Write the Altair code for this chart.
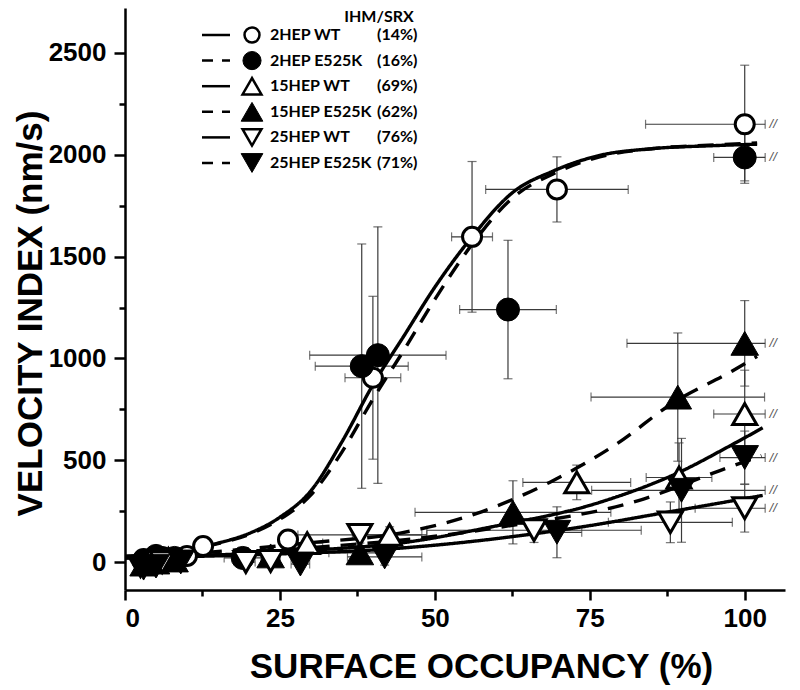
import altair as alt
import pandas as pd

FONT = "Liberation Sans"
LFONT = "Lato"

# ---------------- data ----------------
series = ["2HEP WT", "2HEP E525K", "15HEP WT", "15HEP E525K", "25HEP WT", "25HEP E525K"]
percent = ["(14%)", "(16%)", "(69%)", "(62%)", "(76%)", "(71%)"]
shapes = ["circle", "circle", "triangle-up", "triangle-up", "triangle-down", "triangle-down"]
filled = [False, True, False, True, False, True]
dashes = ["solid", "dashed", "solid", "dashed", "solid", "dashed"]

# measured points (x = surface occupancy %, y = velocity index nm/s)
p_2hep_wt_x = [3, 6, 10, 12.6, 26.3, 40.0, 56.0, 69.7, 100.0]
p_2hep_wt_y = [15, 25, 30, 78, 110, 905, 1597, 1830, 2150]
p_2hep_wt_xerr = [0.5, 0.5, 1, 1, 1.5, 4.5, 3.3, 11.5, 16]
p_2hep_wt_yerr = [10, 10, 15, 20, 30, 400, 370, 160, 290]

p_2hep_mut_x = [3, 5, 8, 19, 38.2, 40.8, 61.8, 100.0]
p_2hep_mut_y = [5, 30, 20, 20, 962, 1016, 1240, 1987]
p_2hep_mut_xerr = [0.5, 0.5, 0.8, 3, 7.5, 11, 7.8, 5]
p_2hep_mut_yerr = [10, 10, 10, 15, 600, 630, 340, 115]

p_15hep_wt_x = [4, 7, 29.4, 42.7, 72.9, 89.4, 100.0]
p_15hep_wt_y = [10, 15, 93, 133, 391, 415, 727]
p_15hep_wt_xerr = [0.5, 0.5, 2.5, 6, 8.7, 5.3, 5]
p_15hep_wt_yerr = [10, 10, 20, 40, 85, 170, 215]

p_15hep_mut_x = [3, 5, 8, 23.5, 37.9, 62.6, 89.2, 100.0]
p_15hep_mut_y = [-10, 0, 10, 30, 45, 244, 810, 1074]
p_15hep_mut_xerr = [0.5, 0.5, 0.8, 1.5, 5, 15.8, 14, 19]
p_15hep_mut_yerr = [10, 10, 10, 15, 30, 155, 315, 210]

p_25hep_wt_x = [2.5, 6, 19.5, 23.5, 37.9, 66.0, 88.0, 100.0]
p_25hep_wt_y = [-20, 0, 0, 5, 133, 156, 195, 264]
p_25hep_wt_xerr = [0.5, 0.5, 1.5, 1.5, 10, 17.3, 10, 8]
p_25hep_wt_yerr = [10, 10, 10, 10, 40, 60, 100, 117]

p_25hep_mut_x = [3, 5, 9, 28.3, 41.9, 69.7, 89.8, 100.0]
p_25hep_mut_y = [-30, -20, 0, -10, 25, 146, 352, 513]
p_25hep_mut_xerr = [0.5, 0.5, 0.8, 1.5, 6, 4, 14.5, 4]
p_25hep_mut_yerr = [10, 10, 10, 10, 40, 125, 255, 130]

# fitted curves
f_2hep_wt_x = [0, 5, 10, 15, 20, 25, 30, 35, 40, 45, 50, 56, 62.6, 69, 76.6, 85, 95, 102]
f_2hep_wt_y = [25, 40, 60, 93, 140, 220, 350, 590, 870, 1110, 1350, 1597, 1816, 1919, 1997, 2030, 2045, 2052]
f_2hep_mut_x = [0, 5, 10, 15, 20, 25, 30, 35, 40, 45, 50, 56, 62.6, 69, 76.6, 85, 95, 102]
f_2hep_mut_y = [25, 38, 58, 90, 135, 210, 330, 540, 800, 1040, 1290, 1560, 1790, 1905, 1990, 2030, 2048, 2058]
f_15hep_wt_x = [0, 15, 30, 44.4, 58.9, 76.6, 90, 97.1, 102.9]
f_15hep_wt_y = [20, 35, 58, 93, 171, 293, 449, 562, 659]
f_15hep_mut_x = [0, 10, 20, 30, 44.4, 56.8, 68.5, 79.4, 88.4, 98, 102]
f_15hep_mut_y = [25, 40, 65, 95, 142, 239, 391, 581, 781, 938, 1010]
f_25hep_wt_x = [0, 20, 44.4, 73.4, 87.4, 102.9]
f_25hep_wt_y = [20, 35, 68, 171, 244, 327]
f_25hep_mut_x = [0, 20, 30, 44.4, 60.5, 83, 96, 102.7]
f_25hep_mut_y = [20, 45, 70, 107, 171, 303, 449, 522]

x_ticks = [0, 25, 50, 75, 100]
x_minor = [12.5, 37.5, 62.5, 87.5]
y_ticks = [0, 500, 1000, 1500, 2000, 2500]
y_minor = [250, 750, 1250, 1750, 2250]

# ---------------- assemble tables ----------------
pt_sets = [
    (p_2hep_wt_x, p_2hep_wt_y, p_2hep_wt_xerr, p_2hep_wt_yerr),
    (p_2hep_mut_x, p_2hep_mut_y, p_2hep_mut_xerr, p_2hep_mut_yerr),
    (p_15hep_wt_x, p_15hep_wt_y, p_15hep_wt_xerr, p_15hep_wt_yerr),
    (p_15hep_mut_x, p_15hep_mut_y, p_15hep_mut_xerr, p_15hep_mut_yerr),
    (p_25hep_wt_x, p_25hep_wt_y, p_25hep_wt_xerr, p_25hep_wt_yerr),
    (p_25hep_mut_x, p_25hep_mut_y, p_25hep_mut_xerr, p_25hep_mut_yerr),
]
fit_sets = [
    (f_2hep_wt_x, f_2hep_wt_y), (f_2hep_mut_x, f_2hep_mut_y),
    (f_15hep_wt_x, f_15hep_wt_y), (f_15hep_mut_x, f_15hep_mut_y),
    (f_25hep_wt_x, f_25hep_wt_y), (f_25hep_mut_x, f_25hep_mut_y),
]

def marker_size(shape, is_filled, legend=False):
    if shape == "circle":
        s = 530 if is_filled else 361
    else:
        s = 760 if is_filled else 576
    return s * (0.62 if legend else 1.0)

rows = []
for i, (xs_, ys_, xe, ye) in enumerate(pt_sets):
    for x, y, a, b in zip(xs_, ys_, xe, ye):
        rows.append(dict(series=series[i], x=x, y=y, xerr=a, yerr=b,
                         shape=shapes[i],
                         fill="black" if filled[i] else "white",
                         size=marker_size(shapes[i], filled[i]),
                         sw=1.0 if filled[i] else 3.0))
pts = pd.DataFrame(rows)
BAR_END = 103.3
pts["ylo"] = pts["y"] - pts["yerr"]
pts["yhi"] = pts["y"] + pts["yerr"]
pts["xlo"] = pts["x"] - pts["xerr"]
pts["xhi"] = (pts["x"] + pts["xerr"]).clip(upper=BAR_END)
brk = pts[pts["x"] + pts["xerr"] > BAR_END].copy()
brk["bx"] = 104.6

crow = []
for i, (fx, fy) in enumerate(fit_sets):
    for k, (x, y) in enumerate(zip(fx, fy)):
        crow.append(dict(series=series[i], x=x, y=y, dash=dashes[i], k=k))
curves = pd.DataFrame(crow)

# ---------------- scales & axes ----------------
xsc = alt.Scale(domain=[0, 106.5], nice=False, zero=False)
ysc = alt.Scale(domain=[-137.5, 2721], nice=False, zero=False)

common = dict(grid=False, domainColor="black", tickColor="black", labelColor="black",
              titleColor="black")
x_major = alt.Axis(values=x_ticks, orient="bottom", title="SURFACE OCCUPANCY (%)",
                   tickSize=10, tickWidth=2.5, domainWidth=2.5, labelPadding=5,
                   labelFont=FONT, labelFontSize=26, labelFontWeight="bold", format="d",
                   titleFont=FONT, titleFontSize=35, titleFontWeight="bold",
                   titleX=356, titleY=76, titleBaseline="middle", titleAlign="center",
                   **common)
x_min = alt.Axis(values=x_minor, orient="bottom", labels=False, domain=False,
                 tickSize=6, tickWidth=2.5, title=None, **common)
y_major = alt.Axis(values=y_ticks, orient="left", title="VELOCITY INDEX (nm/s)",
                   tickSize=11, tickWidth=2.5, domainWidth=2.5, labelPadding=8,
                   labelFont=FONT, labelFontSize=26, labelFontWeight="bold", format="d",
                   titleFont=FONT, titleFontSize=35, titleFontWeight="bold",
                   titleAngle=270, titleX=-95, titleY=305, titleBaseline="middle",
                   titleAlign="center", **common)
y_min = alt.Axis(values=y_minor, orient="left", labels=False, domain=False,
                 tickSize=6, tickWidth=2.5, title=None, **common)

def X(f, axis=None):
    return alt.X(f, type="quantitative", scale=xsc, axis=axis)

def Y(f, axis=None):
    return alt.Y(f, type="quantitative", scale=ysc, axis=axis)

base = alt.Chart(pts)

vbars = base.mark_errorbar(ticks=True, size=9, thickness=1.2, color="#3a3a3a", clip=True).encode(
    x=X("x"), y=Y("ylo"), y2=alt.Y2("yhi"))
hbars = base.mark_errorbar(ticks=True, size=9, thickness=1.2, color="#3a3a3a", clip=True).encode(
    x=X("xlo"), x2=alt.X2("xhi"), y=Y("y"))
breaks = alt.Chart(brk).mark_text(text="//", font=FONT, fontSize=13, fontStyle="italic",
                                  color="#555555").encode(x=X("bx"), y=Y("y"))

lines = alt.Chart(curves).mark_line(color="black", strokeWidth=3.4, interpolate="monotone",
                                    clip=True).encode(
    x=X("x", x_min), y=Y("y", y_min), detail="series:N", order="k:Q",
    strokeDash=alt.StrokeDash("dash:N", scale=alt.Scale(domain=["solid", "dashed"],
                                                        range=[[1, 0], [16, 11]]),
                              legend=None))

points = base.mark_point(filled=True, opacity=1, stroke="black").encode(
    x=X("x", x_major), y=Y("y", y_major),
    shape=alt.Shape("shape:N", scale=None),
    fill=alt.Fill("fill:N", scale=None),
    size=alt.Size("size:Q", scale=None),
    strokeWidth=alt.StrokeWidth("sw:Q", scale=None))

# ---------------- hand-built legend (pixel layout) ----------------
one = pd.DataFrame({"a": [0]})
LEG_Y0, LEG_DY = 27, 25.6
LINE_X0, LINE_X1, MARK_X, LAB_X, PCT_X = 77, 105, 127, 145, 252
legend_layers = [
    alt.Chart(one).mark_text(text="IHM/SRX", font=LFONT, fontWeight="bold", fontSize=16,
                             align="center", baseline="top", color="black").encode(
        x=alt.value(254), y=alt.value(1))
]
for i in range(len(series)):
    ly = LEG_Y0 + i * LEG_DY
    rule_kw = dict(color="black", strokeWidth=2.5)
    if dashes[i] == "dashed":
        rule_kw["strokeDash"] = [11, 9]
    legend_layers.append(alt.Chart(one).mark_rule(**rule_kw).encode(
        x=alt.value(LINE_X0), x2=alt.value(LINE_X1), y=alt.value(ly)))
    legend_layers.append(alt.Chart(one).mark_point(
        filled=True, opacity=1, shape=shapes[i], size=marker_size(shapes[i], filled[i], True),
        fill="black" if filled[i] else "white", stroke="black",
        strokeWidth=1.0 if filled[i] else 2.5).encode(x=alt.value(MARK_X), y=alt.value(ly)))
    legend_layers.append(alt.Chart(one).mark_text(
        text=series[i], font=LFONT, fontWeight="bold", fontSize=16, align="left",
        baseline="middle", color="black").encode(x=alt.value(LAB_X), y=alt.value(ly)))
    legend_layers.append(alt.Chart(one).mark_text(
        text=percent[i], font=LFONT, fontWeight="bold", fontSize=16, align="left",
        baseline="middle", color="black").encode(x=alt.value(PCT_X), y=alt.value(ly)))

chart = alt.layer(vbars, hbars, breaks, lines, points, *legend_layers).resolve_axis(
    x="independent", y="independent"
).properties(
    width=660, height=582,
    padding={"left": 117, "top": 0, "right": 7, "bottom": 98},
    autosize=alt.AutoSizeParams(type="none"),
).configure_view(stroke=None)

chart.save("out.html", embed_options={"renderer": "svg", "actions": False})
